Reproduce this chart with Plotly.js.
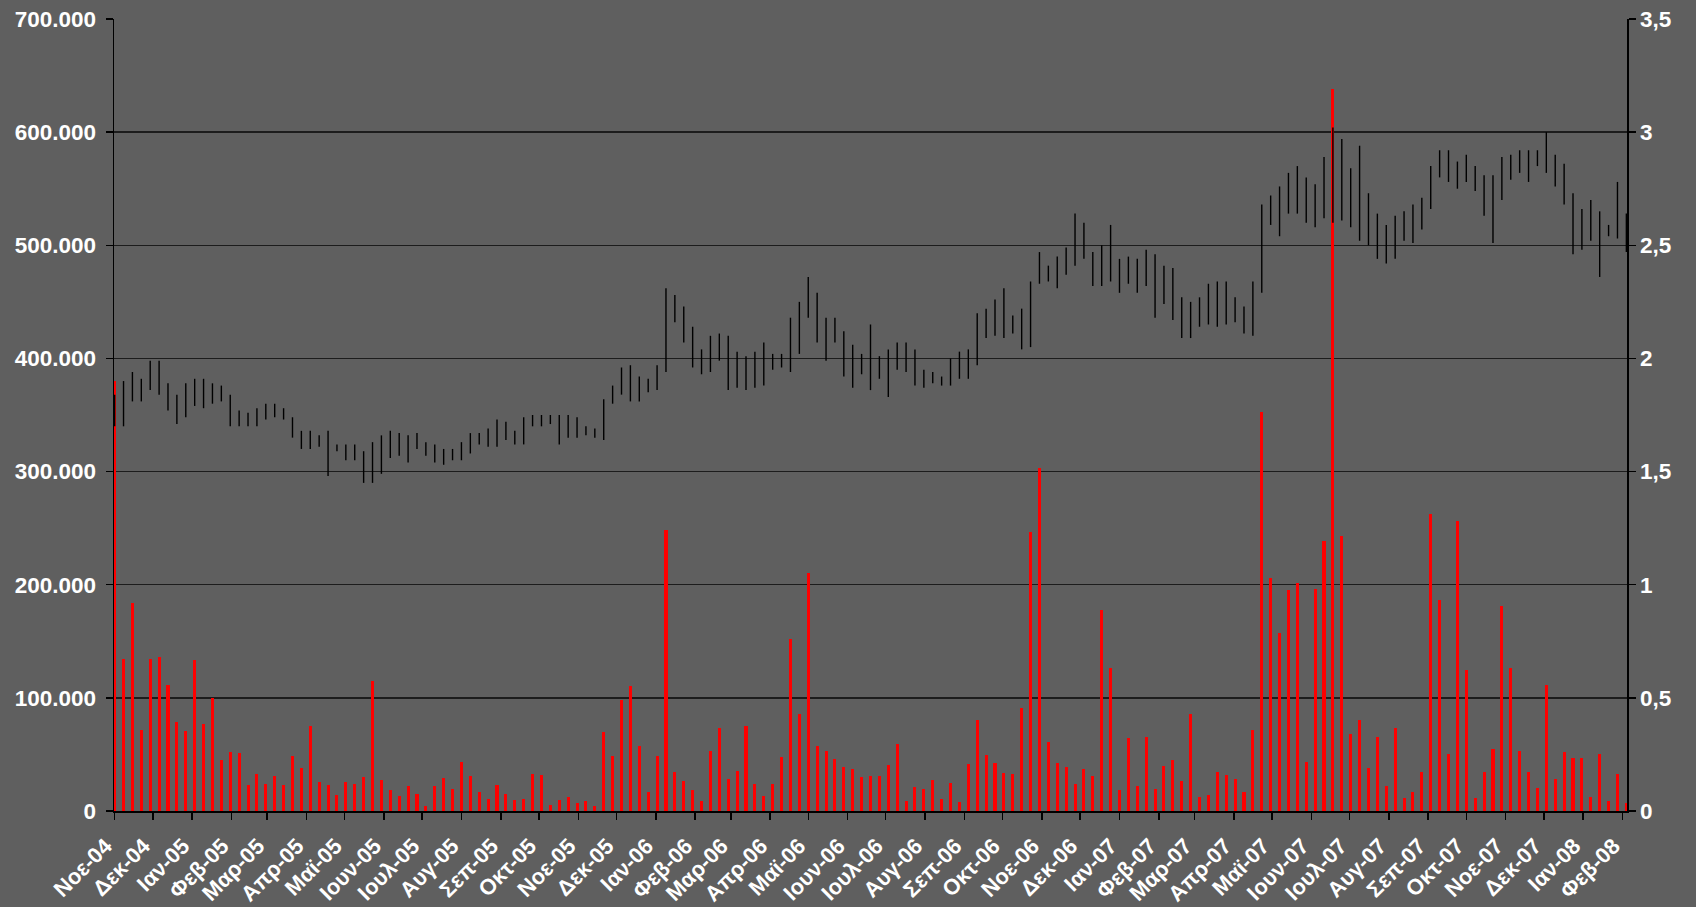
<!DOCTYPE html>
<html>
<head>
<meta charset="utf-8">
<script src="https://cdn.plot.ly/plotly-3.0.1.min.js"></script>
<style>
  html, body { margin: 0; padding: 0; background: #5f5f5f; }
  #chart { width: 1696px; height: 907px; }
</style>
</head>
<body>
<div id="chart"></div>
<script>
// weekly dates (Mondays)
const weeks = [
  "2004-11-01","2004-11-08","2004-11-15","2004-11-22","2004-11-29","2004-12-06","2004-12-13","2004-12-20","2004-12-27",
  "2005-01-03","2005-01-10","2005-01-17","2005-01-24","2005-01-31","2005-02-07","2005-02-14","2005-02-21","2005-02-28",
  "2005-03-07","2005-03-14","2005-03-21","2005-03-28","2005-04-04","2005-04-11","2005-04-18","2005-04-25","2005-05-02",
  "2005-05-09","2005-05-16","2005-05-23","2005-05-30","2005-06-06","2005-06-13","2005-06-20","2005-06-27","2005-07-04",
  "2005-07-11","2005-07-18","2005-07-25","2005-08-01","2005-08-08","2005-08-15","2005-08-22","2005-08-29","2005-09-05",
  "2005-09-12","2005-09-19","2005-09-26","2005-10-03","2005-10-10","2005-10-17","2005-10-24","2005-10-31","2005-11-07",
  "2005-11-14","2005-11-21","2005-11-28","2005-12-05","2005-12-12","2005-12-19","2005-12-26",
  "2006-01-02","2006-01-09","2006-01-16","2006-01-23","2006-01-30","2006-02-06","2006-02-13","2006-02-20","2006-02-27",
  "2006-03-06","2006-03-13","2006-03-20","2006-03-27","2006-04-03","2006-04-10","2006-04-17","2006-04-24","2006-05-01",
  "2006-05-08","2006-05-15","2006-05-22","2006-05-29","2006-06-05","2006-06-12","2006-06-19","2006-06-26","2006-07-03",
  "2006-07-10","2006-07-17","2006-07-24","2006-07-31","2006-08-07","2006-08-14","2006-08-21","2006-08-28","2006-09-04",
  "2006-09-11","2006-09-18","2006-09-25","2006-10-02","2006-10-09","2006-10-16","2006-10-23","2006-10-30","2006-11-06",
  "2006-11-13","2006-11-20","2006-11-27","2006-12-04","2006-12-11","2006-12-18","2006-12-25",
  "2007-01-01","2007-01-08","2007-01-15","2007-01-22","2007-01-29","2007-02-05","2007-02-12","2007-02-19","2007-02-26",
  "2007-03-05","2007-03-12","2007-03-19","2007-03-26","2007-04-02","2007-04-09","2007-04-16","2007-04-23","2007-04-30",
  "2007-05-07","2007-05-14","2007-05-21","2007-05-28","2007-06-04","2007-06-11","2007-06-18","2007-06-25","2007-07-02",
  "2007-07-09","2007-07-16","2007-07-23","2007-07-30","2007-08-06","2007-08-13","2007-08-20","2007-08-27","2007-09-03",
  "2007-09-10","2007-09-17","2007-09-24","2007-10-01","2007-10-08","2007-10-15","2007-10-22","2007-10-29","2007-11-05",
  "2007-11-12","2007-11-19","2007-11-26","2007-12-03","2007-12-10","2007-12-17","2007-12-24","2007-12-31",
  "2008-01-07","2008-01-14","2008-01-21","2008-01-28","2008-02-04"
];

// weekly volume (left axis)
const volume = [
  380000,134000,183500,71400,134000,136000,111000,78500,71000,133600,77300,99700,45400,51900,51000,22700,32400,23900,
  31000,22700,48400,38300,75200,25700,23000,13900,25700,23900,30000,
  114700,27000,18300,13600,21800,15300,4400,22400,29500,19500,43000,30700,16800,10900,22700,15300,9400,10900,32400,
  31900,5300,9400,12400,7400,9100,4100,69600,48400,
  97900,110300,57800,16800,49000,248000,34500,26800,18300,9100,53400,73700,28600,35100,75500,23900,13600,23600,47800,
  151600,86100,210000,57200,53400,46000,38600,37200,29800,31000,
  30700,41000,59000,8600,21200,19500,27700,10300,25000,7700,41600,80800,49300,42800,33900,32700,90600,246600,303500,
  60800,42800,39200,23600,37500,31000,177900,126500,18600,
  64300,21800,65500,19500,39500,45100,26800,85300,12400,14500,34800,31600,28000,16800,71400,353000,205600,157200,
  195600,201200,43000,196500,239000,638000,243400,67800,80200,38000,
  65800,21800,73500,11500,16500,34200,262500,186100,50100,256000,125000,11800,34500,54900,181400,126800,53100,34200,
  20600,111800,28600,52500,46900,46900,12700,50100,9100,32400,7100
];

// weekly high / low price (right axis)
const priceHigh = [
  1.84,1.90,1.94,1.91,1.99,1.99,1.89,1.84,1.89,1.91,1.91,1.89,1.88,1.84,1.77,1.76,1.78,1.80,1.80,1.78,1.74,1.68,1.68,
  1.66,1.68,1.62,1.62,1.62,1.59,
  1.63,1.66,1.68,1.67,1.66,1.67,1.63,1.62,1.60,1.60,1.63,1.67,1.67,1.69,1.73,1.72,1.68,1.74,1.75,1.75,1.75,1.75,1.75,
  1.74,1.70,1.69,1.82,1.88,
  1.96,1.97,1.92,1.91,1.97,2.31,2.28,2.23,2.14,2.04,2.10,2.11,2.10,2.03,2.01,2.03,2.07,2.02,2.02,2.18,2.25,2.36,2.29,
  2.18,2.18,2.12,2.06,2.02,2.15,
  2.01,2.04,2.07,2.07,2.04,1.95,1.94,1.92,2.00,2.03,2.04,2.20,2.22,2.26,2.31,2.19,2.22,2.34,2.47,2.41,2.45,2.49,2.64,
  2.60,2.47,2.50,2.59,2.44,
  2.45,2.44,2.48,2.46,2.41,2.40,2.27,2.25,2.27,2.33,2.34,2.34,2.27,2.23,2.34,2.68,2.72,2.76,2.82,2.85,2.80,2.77,2.89,
  3.02,2.97,2.84,2.94,2.73,
  2.64,2.59,2.63,2.65,2.68,2.71,2.85,2.92,2.92,2.87,2.90,2.85,2.81,2.81,2.89,2.90,2.92,2.92,2.92,3.00,2.90,2.86,2.73,
  2.66,2.70,2.65,2.59,2.78,2.64
];
const priceLow = [
  1.70,1.70,1.81,1.81,1.86,1.84,1.77,1.71,1.74,1.79,1.78,1.80,1.81,1.70,1.70,1.70,1.70,1.73,1.74,1.73,1.65,1.60,1.60,
  1.61,1.48,1.59,1.55,1.55,1.45,
  1.45,1.49,1.56,1.57,1.54,1.60,1.57,1.54,1.53,1.55,1.55,1.58,1.62,1.61,1.61,1.64,1.62,1.62,1.70,1.70,1.71,1.62,1.65,
  1.65,1.66,1.65,1.64,1.80,
  1.84,1.81,1.81,1.85,1.86,1.94,2.16,2.07,1.96,1.93,1.94,1.99,1.86,1.87,1.86,1.87,1.88,1.95,1.96,1.94,2.02,2.18,2.07,
  1.99,2.07,1.92,1.87,1.93,1.86,
  1.91,1.83,1.95,1.94,1.88,1.87,1.89,1.88,1.88,1.91,1.91,1.97,2.09,2.10,2.09,2.11,2.04,2.05,2.33,2.34,2.31,2.37,2.41,
  2.44,2.32,2.32,2.34,2.29,
  2.33,2.29,2.32,2.18,2.24,2.17,2.09,2.09,2.14,2.15,2.14,2.15,2.16,2.11,2.10,2.29,2.59,2.54,2.64,2.64,2.60,2.58,2.62,
  2.60,2.61,2.58,2.52,2.50,
  2.44,2.42,2.44,2.52,2.51,2.57,2.66,2.80,2.78,2.75,2.78,2.74,2.63,2.51,2.70,2.79,2.82,2.78,2.85,2.82,2.76,2.68,2.46,
  2.48,2.52,2.36,2.54,2.53,2.47
];

const monthTicks = [
  "2004-11-01","2004-12-01","2005-01-01","2005-02-01","2005-03-01","2005-04-01","2005-05-01","2005-06-01",
  "2005-07-01","2005-08-01","2005-09-01","2005-10-01","2005-11-01","2005-12-01","2006-01-01","2006-02-01",
  "2006-03-01","2006-04-01","2006-05-01","2006-06-01","2006-07-01","2006-08-01","2006-09-01","2006-10-01",
  "2006-11-01","2006-12-01","2007-01-01","2007-02-01","2007-03-01","2007-04-01","2007-05-01","2007-06-01",
  "2007-07-01","2007-08-01","2007-09-01","2007-10-01","2007-11-01","2007-12-01","2008-01-01","2008-02-01"
];
const monthLabels = [
  "Νοε-04","Δεκ-04","Ιαν-05","Φεβ-05","Μαρ-05","Απρ-05","Μαϊ-05","Ιουν-05",
  "Ιουλ-05","Αυγ-05","Σεπ-05","Οκτ-05","Νοε-05","Δεκ-05","Ιαν-06","Φεβ-06",
  "Μαρ-06","Απρ-06","Μαϊ-06","Ιουν-06","Ιουλ-06","Αυγ-06","Σεπ-06","Οκτ-06",
  "Νοε-06","Δεκ-06","Ιαν-07","Φεβ-07","Μαρ-07","Απρ-07","Μαϊ-07","Ιουν-07",
  "Ιουλ-07","Αυγ-07","Σεπ-07","Οκτ-07","Νοε-07","Δεκ-07","Ιαν-08","Φεβ-08"
];

// high-low segments as one broken line
const hlX = [], hlY = [];
weeks.forEach((d, i) => {
  hlX.push(d, d, null);
  hlY.push(priceLow[i], priceHigh[i], null);
});

const DAY = 86400000;
const fontFamily = "Arial, 'Liberation Sans', sans-serif";
const yFont = { family: fontFamily, size: 22.5, color: "#ffffff", weight: "bold" };
const xFont = { family: fontFamily, size: 22, color: "#ffffff", weight: "bold" };

const volTrace = {
  type: "bar", x: weeks, y: volume, yaxis: "y",
  marker: { color: "#ff0000", line: { width: 0 } },
  width: 2.4 * DAY, hoverinfo: "x+y", showlegend: false
};
const hlTrace = {
  type: "scatter", mode: "lines", x: hlX, y: hlY, yaxis: "y2",
  line: { color: "#000000", width: 1.4 }, connectgaps: false,
  hoverinfo: "skip", showlegend: false
};

const layout = {
  width: 1696, height: 907,
  paper_bgcolor: "#5f5f5f", plot_bgcolor: "#5f5f5f",
  margin: { l: 114, r: 69, t: 19, b: 96, pad: 0 },
  separators: ",.",
  bargap: 0,
  xaxis: {
    type: "date",
    range: ["2004-10-31 12:00", "2008-02-04 12:00"],
    tickmode: "array", tickvals: monthTicks, ticktext: monthLabels,
    tickangle: -45, tickfont: xFont,
    ticklabelshift: -9, ticklabelstandoff: 5,
    showgrid: false, zeroline: false,
    showline: true, linecolor: "#000000", linewidth: 1.5,
    ticks: "outside", ticklen: 7, tickcolor: "#000000", tickwidth: 1.5
  },
  yaxis: {
    range: [0, 700000], dtick: 100000, tickformat: ",d",
    tickfont: yFont, ticklabelstandoff: 5,
    showgrid: true, gridcolor: "#1c1c1c", gridwidth: 1.4, zeroline: false,
    showline: true, linecolor: "#000000", linewidth: 1.5,
    ticks: "outside", ticklen: 7, tickcolor: "#000000", tickwidth: 1.5
  },
  yaxis2: {
    overlaying: "y", side: "right",
    range: [0, 3.5], dtick: 0.5,
    tickfont: yFont,
    showgrid: false, zeroline: false,
    showline: true, linecolor: "#000000", linewidth: 1.5,
    ticks: "outside", ticklen: 7, tickcolor: "#000000", tickwidth: 1.5
  }
};

Plotly.newPlot("chart", [volTrace, hlTrace], layout, { displayModeBar: false, staticPlot: true });
</script>
</body>
</html>
